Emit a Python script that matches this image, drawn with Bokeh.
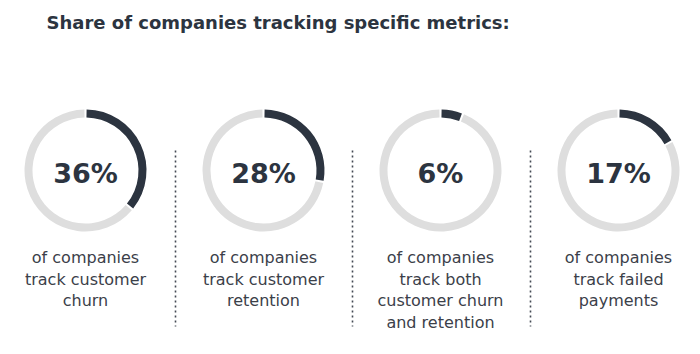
import math
from bokeh.plotting import figure
from bokeh.models import Range1d, ColumnDataSource
from bokeh.core.properties import value
from bokeh.embed import file_html
from bokeh.resources import INLINE

# ---- data ----
title_text = "Share of companies tracking specific metrics:"
values = [36, 28, 6, 17]
pct_labels = ["36%", "28%", "6%", "17%"]
captions = [
    ["of companies", "track customer", "churn"],
    ["of companies", "track customer", "retention"],
    ["of companies", "track both", "customer churn", "and retention"],
    ["of companies", "track failed", "payments"],
]

# ---- layout (pixels) ----
W, H = 700, 354
centers_x = [85, 263, 440, 618]
ring_y = 170
r_out, r_in = 61, 53
gap = 0.018
dark = "#2c3440"
light = "#dedede"
text_col = "#3b4049"
FONT = "DejaVu Sans"

def Y(py):
    return H - py

p = figure(width=W, height=H, output_backend="svg", toolbar_location=None,
           x_range=Range1d(0, W), y_range=Range1d(0, H), min_border=0)
p.axis.visible = False
p.grid.visible = False
p.outline_line_color = None
p.background_fill_color = "white"
p.border_fill_color = "white"

top = math.pi / 2
dk = dict(x=[], y=[], s=[], e=[])
lg = dict(x=[], y=[], s=[], e=[])
for cx, v in zip(centers_x, values):
    sweep = 2 * math.pi * v / 100.0
    dk["x"].append(cx); dk["y"].append(Y(ring_y))
    dk["s"].append(top - gap); dk["e"].append(top - sweep + gap)
    lg["x"].append(cx); lg["y"].append(Y(ring_y))
    lg["s"].append(top - sweep - gap); lg["e"].append(top + gap)

p.annular_wedge(x="x", y="y", inner_radius=r_in, outer_radius=r_out,
                start_angle="s", end_angle="e", direction="clock",
                source=ColumnDataSource(lg), fill_color=light, line_color=None)
p.annular_wedge(x="x", y="y", inner_radius=r_in, outer_radius=r_out,
                start_angle="s", end_angle="e", direction="clock",
                source=ColumnDataSource(dk), fill_color=dark, line_color=None)

# percentages
p.text(x=centers_x, y=[Y(173)] * len(values), text=pct_labels,
       text_font=value(FONT), text_font_style="bold", text_font_size="27px",
       text_color=dark, text_align="center", text_baseline="middle")

# captions
cx_list, cy_list, ct_list = [], [], []
for cx, lines in zip(centers_x, captions):
    for i, line in enumerate(lines):
        cx_list.append(cx)
        cy_list.append(Y(257 + 21.5 * i))
        ct_list.append(line)
p.text(x=cx_list, y=cy_list, text=ct_list, text_font=value(FONT),
       text_font_size="16px", text_color=text_col, text_align="center",
       text_baseline="middle")

# dotted separators
sep_x = [175, 352, 530]
p.segment(x0=sep_x, y0=[Y(150)] * 3, x1=sep_x, y1=[Y(326)] * 3,
          line_color="#444a54", line_width=1.6, line_dash="2 3")

# title
p.text(x=[46], y=[Y(22)], text=[title_text], text_font=value(FONT),
       text_font_style="bold", text_font_size="18px", text_color=dark,
       text_align="left", text_baseline="middle")

open("out.html", "w").write(file_html(p, INLINE))
